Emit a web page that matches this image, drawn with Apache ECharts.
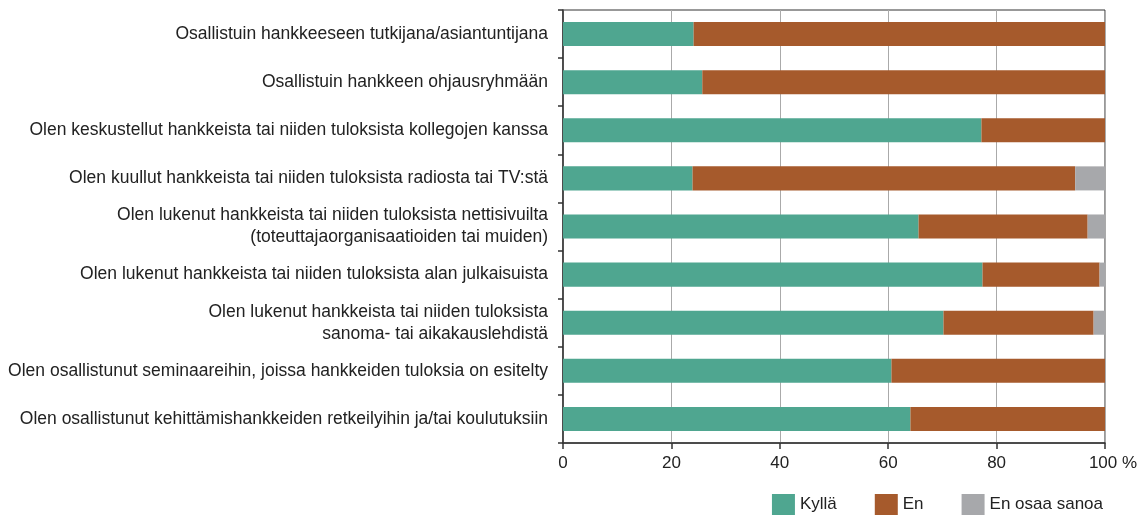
<!DOCTYPE html>
<html>
<head>
<meta charset="utf-8">
<script src="https://cdn.jsdelivr.net/npm/echarts@6/dist/echarts.min.js"></script>
<style>
  html, body { margin: 0; padding: 0; background: #fff; }
  #chart { width: 1143px; height: 515px; }
</style>
</head>
<body>
<div id="chart"></div>
<script>
var categories = [
    'Osallistuin hankkeeseen tutkijana/asiantuntijana',
    'Osallistuin hankkeen ohjausryhmään',
    'Olen keskustellut hankkeista tai niiden tuloksista kollegojen kanssa',
    'Olen kuullut hankkeista tai niiden tuloksista radiosta tai TV:stä',
    'Olen lukenut hankkeista tai niiden tuloksista nettisivuilta\n(toteuttajaorganisaatioiden tai muiden)',
    'Olen lukenut hankkeista tai niiden tuloksista alan julkaisuista',
    'Olen lukenut hankkeista tai niiden tuloksista\nsanoma- tai aikakauslehdistä',
    'Olen osallistunut seminaareihin, joissa hankkeiden tuloksia on esitelty',
    'Olen osallistunut kehittämishankkeiden retkeilyihin ja/tai koulutuksiin'
];
var kylla = [24.1, 25.7, 77.2, 23.9, 65.6, 77.4, 70.2, 60.6, 64.1];
var en    = [75.9, 74.3, 22.8, 70.6, 31.2, 21.6, 27.7, 39.4, 35.9];
var eos   = [0, 0, 0, 5.5, 3.2, 1.0, 2.1, 0, 0];
var seriesNames = ['Kyllä', 'En', 'En osaa sanoa'];
var colors = ['#4fa690', '#a65a2c', '#a7a8ab'];
var xTicks = [0, 20, 40, 60, 80, 100];

var font = '"Liberation Sans", Arial, sans-serif';
var myChart = echarts.init(document.getElementById('chart'));

var option = {
    animation: false,
    textStyle: { fontFamily: font },
    grid: {
        left: 563, right: 38, top: 10, bottom: 72,
        outerBoundsMode: 'none',
        containLabel: false,
        show: true, borderColor: '#333', borderWidth: 1
    },
    legend: {
        data: seriesNames,
        right: 40, top: 494,
        padding: 0,
        itemWidth: 23, itemHeight: 21, itemGap: 38,
        icon: 'rect',
        textStyle: { fontSize: 17, color: '#222', fontFamily: font }
    },
    xAxis: {
        type: 'value',
        min: xTicks[0], max: xTicks[xTicks.length - 1], interval: 20,
        axisLine: { show: true, lineStyle: { color: '#333', width: 1.5 } },
        axisTick: { show: true, length: 6, lineStyle: { color: '#333', width: 1.5 } },
        splitLine: { show: true, lineStyle: { color: '#aaa', width: 1 } },
        axisLabel: {
            fontSize: 17, color: '#222', margin: 12, fontFamily: font,
            formatter: function (v) {
                return v === 100 ? '{p|100 %}' : String(v);
            },
            rich: { p: { fontSize: 17, color: '#222', padding: [0, 0, 0, 16], fontFamily: font } }
        }
    },
    yAxis: {
        type: 'category',
        inverse: true,
        data: categories,
        axisLine: { show: true, lineStyle: { color: '#333', width: 1.5 } },
        axisTick: { show: true, length: 5, lineStyle: { color: '#333', width: 1.5 } },
        axisLabel: { fontSize: 17.5, color: '#222', margin: 15, lineHeight: 22, align: 'right', fontFamily: font }
    },
    series: [kylla, en, eos].map(function (d, i) {
        return {
            name: seriesNames[i],
            type: 'bar',
            stack: 'all',
            data: d,
            barWidth: '50%',
            itemStyle: { color: colors[i] }
        };
    })
};
myChart.setOption(option);
</script>
</body>
</html>
